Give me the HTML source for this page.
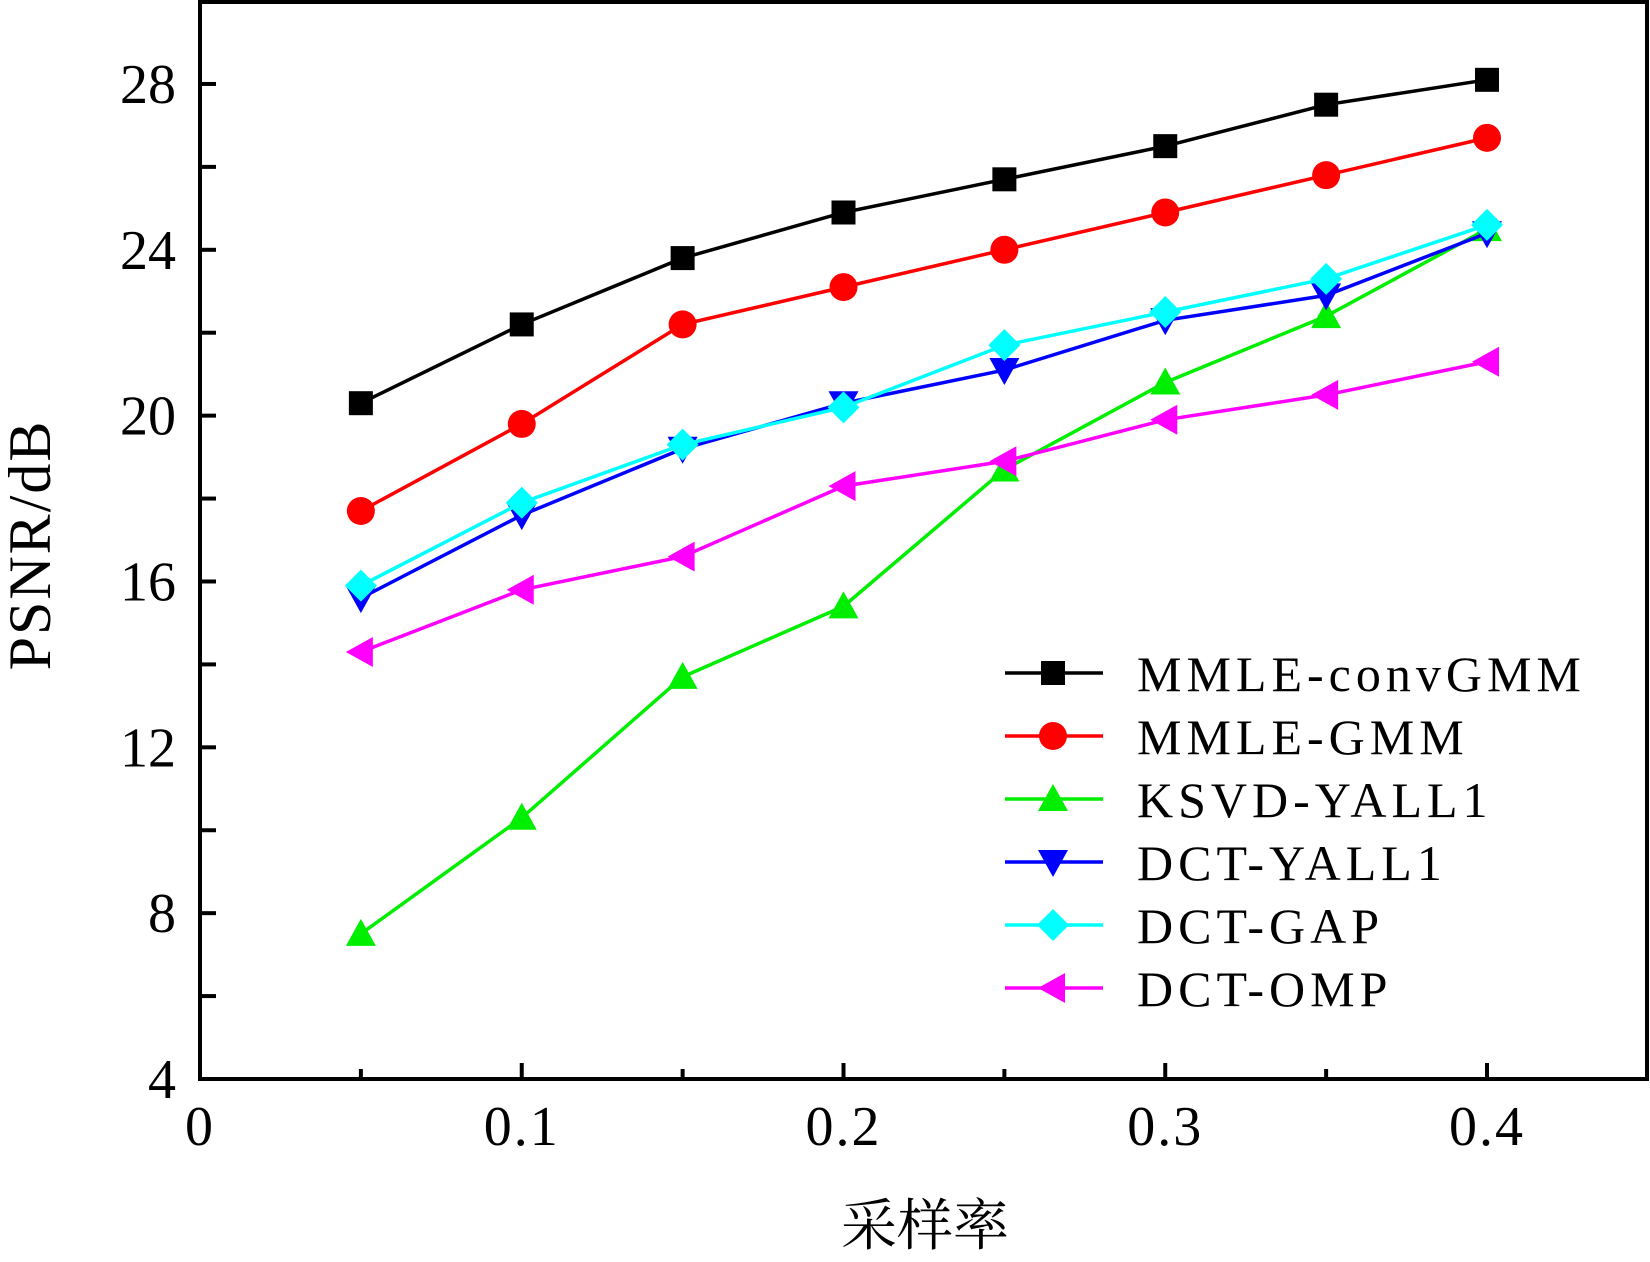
<!DOCTYPE html>
<html><head><meta charset="utf-8"><style>
body{margin:0;background:#fff}
svg{display:block}
text{font-family:"Liberation Serif","Noto Serif CJK SC",serif;fill:#000}
</style></head><body>
<svg id="chart" width="1650" height="1262" viewBox="0 0 1650 1262" xmlns="http://www.w3.org/2000/svg">
<g id="grid"></g>
</svg>
<script>
const xVals=[0.05,0.1,0.15,0.2,0.25,0.3,0.35,0.4];
const sConv=[20.3,22.2,23.8,24.9,25.7,26.5,27.5,28.1];
const sGMM=[17.7,19.8,22.2,23.1,24.0,24.9,25.8,26.7];
const sKSVD=[7.5,10.3,13.7,15.4,18.7,20.8,22.4,24.5];
const sYALL=[15.6,17.6,19.2,20.3,21.1,22.3,22.9,24.4];
const sGAP=[15.9,17.9,19.3,20.2,21.7,22.5,23.3,24.6];
const sOMP=[14.3,15.8,16.6,18.3,18.9,19.9,20.5,21.3];
const names=["MMLE-convGMM","MMLE-GMM","KSVD-YALL1","DCT-YALL1","DCT-GAP","DCT-OMP"];
const yTicks=[4,8,12,16,20,24,28];
const xTicks=[0,0.1,0.2,0.3,0.4];
const xTickLabels=["0","0.1","0.2","0.3","0.4"];

const L=200,R=1647,T=2,B=1079;
const X=v=>L+v*3217.5;
const Y=v=>B-(v-4)*41.46;
const svg=document.getElementById('chart');
const NS='http://www.w3.org/2000/svg';
function mk(tag,attrs,parent){const e=document.createElementNS(NS,tag);for(const k in attrs)e.setAttribute(k,attrs[k]);(parent||svg).appendChild(e);return e;}

const frame=mk('rect',{x:L,y:T,width:R-L,height:B-T,fill:'none',stroke:'#000','stroke-width':4});


for(let v=4;v<=28;v+=2){
  const t=mk('line',{x1:L,x2:L+16,y1:Y(v),y2:Y(v),stroke:'#000','stroke-width':4});
  
  
}
yTicks.forEach(v=>{
  const t=mk('text',{x:176,y:Y(v)+19,'text-anchor':'end','font-size':56});
  t.textContent=v;
  
  
});
for(let i=0;i<=8;i++){
  const v=i*0.05;
  const t=mk('line',{x1:X(v),x2:X(v),y1:B,y2:B-(i%2?10:16),stroke:'#000','stroke-width':4});
  
  
}
xTicks.forEach((v,i)=>{
  const t=mk('text',{x:X(v),y:1145,'text-anchor':'middle','font-size':56,'letter-spacing':2});
  t.textContent=xTickLabels[i];
  
  
});
const xt=mk('text',{x:925,y:1245,'text-anchor':'middle','font-size':56});
xt.textContent='采样率';


const yt=mk('text',{x:0,y:0,'text-anchor':'middle','font-size':60,'letter-spacing':2,transform:'translate(50,545) rotate(-90)'});
yt.textContent='PSNR/dB';



function marker(kind,cx,cy,color,parent){
  const s=15;let e;
  if(kind==='sq')e=mk('rect',{x:cx-12,y:cy-12,width:24,height:24,fill:color},parent);
  else if(kind==='ci')e=mk('circle',{cx:cx,cy:cy,r:14,fill:color},parent);
  else if(kind==='up')e=mk('polygon',{points:`${cx},${cy-s} ${cx-s},${cy+s*0.8} ${cx+s},${cy+s*0.8}`,fill:color},parent);
  else if(kind==='dn')e=mk('polygon',{points:`${cx},${cy+s} ${cx-s},${cy-s*0.8} ${cx+s},${cy-s*0.8}`,fill:color},parent);
  else if(kind==='di')e=mk('polygon',{points:`${cx},${cy-16} ${cx+16},${cy} ${cx},${cy+16} ${cx-16},${cy}`,fill:color},parent);
  else e=mk('polygon',{points:`${cx-s},${cy} ${cx+s*0.8},${cy-s} ${cx+s*0.8},${cy+s}`,fill:color},parent);
  return e;
}
const series=[[sConv,'#000','sq'],[sGMM,'#ff0000','ci'],[sKSVD,'#00ee00','up'],[sYALL,'#0000ff','dn'],[sGAP,'#00ffff','di'],[sOMP,'#ff00ff','le']];
series.forEach(([vals,c,m],si)=>{
  const g=mk('g',{});
  
  
  const pl=mk('polyline',{points:vals.map((v,i)=>X(xVals[i])+','+Y(v)).join(' '),fill:'none',stroke:c,'stroke-width':3.5},g);
  
  
  vals.forEach((v,i)=>{
    const p=marker(m,X(xVals[i]),Y(v),c,g);
    
    
  });
  const ly=673+si*63;
  const lg=mk('g',{});
  
  
  mk('line',{x1:1005,x2:1103,y1:ly,y2:ly,stroke:c,'stroke-width':3.5},lg);
  marker(m,1053,ly,c,lg);
  const tx=mk('text',{x:1137,y:ly+18,'font-size':50,'letter-spacing':5},lg);
  tx.textContent=names[si];
});
</script>
</body></html>
